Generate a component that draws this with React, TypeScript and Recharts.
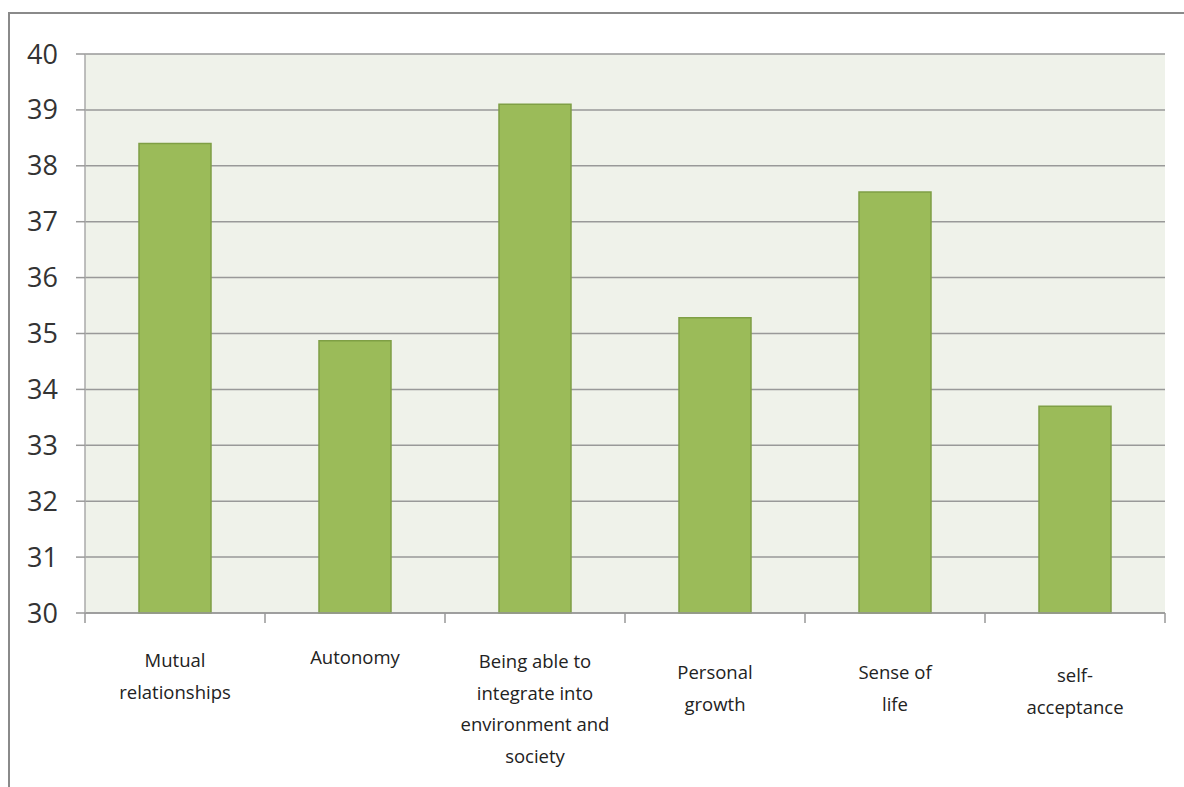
import React from 'react';
import { BarChart, Bar, XAxis, YAxis, CartesianGrid } from 'recharts';

const categories = [
  'Mutual relationships',
  'Autonomy',
  'Being able to integrate into environment and society',
  'Personal growth',
  'Sense of life',
  'self-acceptance',
];
const labelLines = [
  ['Mutual', 'relationships'],
  ['Autonomy'],
  ['Being able to', 'integrate into', 'environment and', 'society'],
  ['Personal', 'growth'],
  ['Sense of', 'life'],
  ['self-', 'acceptance'],
];
const scores = [38.4, 34.87, 39.1, 35.28, 37.53, 33.7];
const yTicks = [30, 31, 32, 33, 34, 35, 36, 37, 38, 39, 40];

const data = categories.map((name, i) => ({ name, value: scores[i], lines: labelLines[i] }));

// small vertical nudges so the labels sit like the original
const labelShift = [0, -3, 1, 12, 12, 15];

const CategoryTick = (props: any) => {
  const { x, y, index, payload } = props;
  const count = props.visibleTicksCount || categories.length;
  const band = (props.width || 1080) / count;
  const lines: string[] = labelLines[index] || [payload.value];
  const left = x - band / 2;
  const right = x + band / 2;
  const last = index === count - 1;
  return (
    <g>
      <line x1={left} y1={y} x2={left} y2={y + 10} stroke="#999" strokeWidth={1.5} />
      {last && <line x1={right} y1={y} x2={right} y2={y + 10} stroke="#999" strokeWidth={1.5} />}
      <text
        x={x}
        y={y + 54 + (labelShift[index] || 0)}
        textAnchor="middle"
        fill="#222"
        fontSize={18.5}
        fontFamily="'Open Sans', sans-serif"
      >
        {lines.map((l, i) => (
          <tspan key={i} x={x} dy={i === 0 ? 0 : 31.5}>
            {l}
          </tspan>
        ))}
      </text>
    </g>
  );
};

export default function App() {
  return (
    <div style={{ position: 'absolute', left: 0, top: 0, width: 1184, height: 787, background: '#fff', overflow: 'hidden' }}>
      <div
        style={{
          position: 'absolute',
          left: 8,
          top: 12,
          width: 1300,
          height: 900,
          borderLeft: '2px solid #8a8a8a',
          borderTop: '2px solid #8a8a8a',
        }}
      />
      <div style={{ position: 'absolute', left: 0, top: 0 }}>
        <BarChart
          width={1184}
          height={787}
          data={data}
          margin={{ top: 54, right: 19, left: 0, bottom: 14 }}
          barCategoryGap="30%"
        >
          <CartesianGrid vertical={false} stroke="#999" strokeWidth={1.5} fill="#eff2ea" fillOpacity={1} />
          <XAxis
            dataKey="name"
            height={160}
            interval={0}
            tickSize={0}
            tickMargin={0}
            tickLine={false}
            axisLine={{ stroke: '#999', strokeWidth: 1.5 }}
            tick={<CategoryTick />}
          />
          <YAxis
            width={85}
            domain={[30, 40]}
            ticks={yTicks}
            interval={0}
            tickSize={9}
            tickMargin={18}
            tickLine={{ stroke: '#999', strokeWidth: 1.5 }}
            axisLine={{ stroke: '#aaa', strokeWidth: 1.5 }}
            tick={{ fill: '#333', fontSize: 27, fontFamily: "'Open Sans', sans-serif" }}
          />
          <Bar dataKey="value" fill="#9bbb59" stroke="#7f9f45" strokeWidth={1.5} isAnimationActive={false} />
        </BarChart>
      </div>
    </div>
  );
}
